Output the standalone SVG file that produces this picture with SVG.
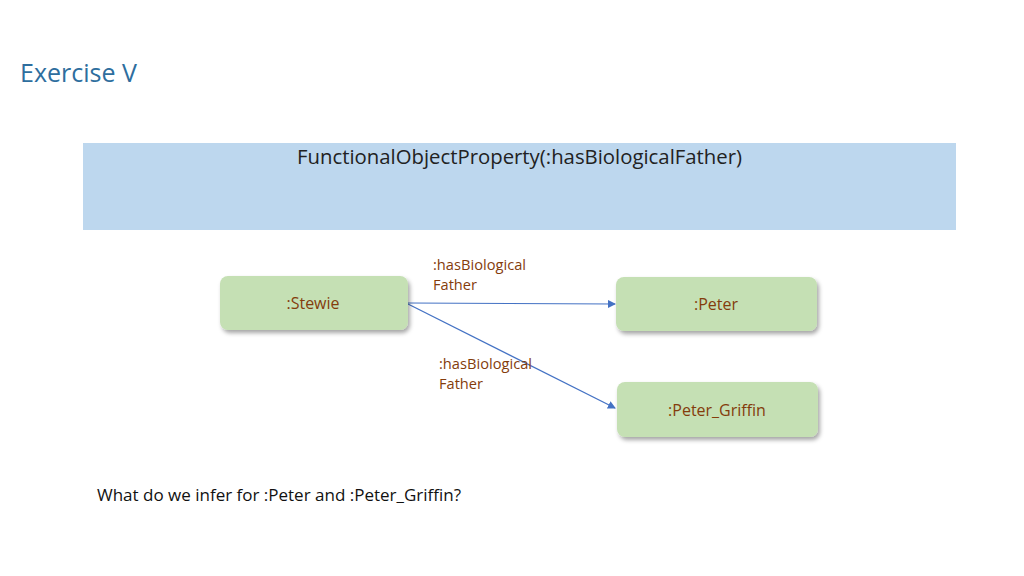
<svg xmlns="http://www.w3.org/2000/svg" width="1024" height="576" viewBox="0 0 1024 576">
<defs>
<filter id="sh" x="-10%" y="-20%" width="125%" height="150%">
<feDropShadow dx="2" dy="3" stdDeviation="2" flood-color="#000" flood-opacity="0.35"/>
</filter>
<marker id="arr" markerWidth="8" markerHeight="8" refX="7" refY="4" orient="auto" markerUnits="userSpaceOnUse">
<path d="M0,0 L8,4 L0,8 z" fill="#4472C4"/>
</marker>
</defs>
<style>
text{font-family:"Open Sans","Liberation Sans",sans-serif;}
.node{fill:#C5E0B4;filter:url(#sh);}
.nl{font-size:16px;fill:#843C0C;text-anchor:middle;}
.el{font-size:14px;fill:#843C0C;}
.conn{stroke:#4472C4;stroke-width:1.2;fill:none;marker-end:url(#arr);}
</style>
<rect width="1024" height="576" fill="#fff"/>
<text x="20" y="82" font-size="26" fill="#2E6E9E" textLength="117" lengthAdjust="spacingAndGlyphs">Exercise V</text>
<g id="axiom">
<rect x="83" y="143" width="873" height="87" fill="#BDD7EE"/>
<text x="297" y="164" font-size="20" fill="#222" textLength="445" lengthAdjust="spacingAndGlyphs">FunctionalObjectProperty(:hasBiologicalFather)</text>
</g>
<g id="connectors">
<line class="conn" x1="408" y1="303" x2="615" y2="304"/>
<line class="conn" x1="408" y1="304" x2="615" y2="408"/>
<text class="el" x="433" y="270" textLength="93" lengthAdjust="spacingAndGlyphs">:hasBiological</text>
<text class="el" x="433" y="290" textLength="44" lengthAdjust="spacingAndGlyphs">Father</text>
<text class="el" x="439" y="369" textLength="93" lengthAdjust="spacingAndGlyphs">:hasBiological</text>
<text class="el" x="439" y="389" textLength="44" lengthAdjust="spacingAndGlyphs">Father</text>
</g>
<g id="stewie">
<rect class="node" x="220" y="276" width="188" height="54" rx="8"/>
<text class="nl" x="313" y="309">:Stewie</text>
</g>
<g id="peter">
<rect class="node" x="616" y="277" width="201" height="54" rx="8"/>
<text class="nl" x="716" y="310">:Peter</text>
</g>
<g id="peter_griffin">
<rect class="node" x="617" y="382" width="201" height="55" rx="8"/>
<text class="nl" x="717" y="416">:Peter_Griffin</text>
</g>
<text x="97" y="501" font-size="16" fill="#111" textLength="364" lengthAdjust="spacingAndGlyphs">What do we infer for :Peter and :Peter_Griffin?</text>
</svg>
